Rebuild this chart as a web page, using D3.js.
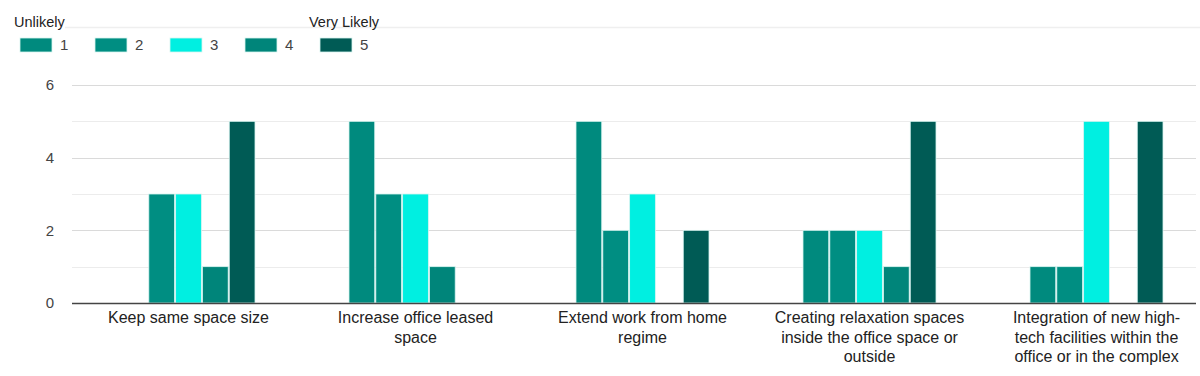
<!DOCTYPE html>
<html>
<head>
<meta charset="utf-8">
<script src="https://cdn.jsdelivr.net/npm/d3@7"></script>
<style>
  body { margin: 0; background: #fff; }
  svg { display: block; font-family: "Liberation Sans", Arial, sans-serif; }
</style>
</head>
<body>
<div id="chart"></div>
<script>
// Chart data
var categories = [
  "Keep same space size",
  "Increase office leased space",
  "Extend work from home regime",
  "Creating relaxation spaces inside the office space or outside",
  "Integration of new high-tech facilities within the office or in the complex"
];
// wrapped tick labels, one array of lines per category
var tickLabels = [
  ["Keep same space size"],
  ["Increase office leased", "space"],
  ["Extend work from home", "regime"],
  ["Creating relaxation spaces", "inside the office space or", "outside"],
  ["Integration of new high-", "tech facilities within the", "office or in the complex"]
];
var seriesNames = ["1", "2", "3", "4", "5"];
var s1 = [0, 5, 5, 2, 1];
var s2 = [3, 3, 2, 2, 1];
var s3 = [3, 3, 3, 2, 5];
var s4 = [1, 1, 0, 1, 0];
var s5 = [5, 0, 2, 5, 5];
var yTicks = [0, 2, 4, 6];

var series = [s1, s2, s3, s4, s5];
var colors = ["#008a7e", "#008e82", "#00efe1", "#00857a", "#005b55"];

var w = 1200, h = 376;
var plotLeft = 72, plotRight = 1196; // gridline extent
var y0 = 303, yTop = 85;

var svg = d3.select("#chart").append("svg")
    .attr("width", w)
    .attr("height", h);

// scales
var x0 = d3.scaleBand()
    .domain(d3.range(categories.length))
    .range([75, 1210]);

var x1 = d3.scaleBand()
    .domain(d3.range(seriesNames.length))
    .range([x0.bandwidth() / 2 - 66.5, x0.bandwidth() / 2 + 66.5])
    .paddingInner(0.04);

var y = d3.scaleLinear()
    .domain([0, 6])
    .range([y0, yTop]);

// faint line under the legend header
svg.append("line")
    .attr("x1", 65).attr("x2", w)
    .attr("y1", 27.5).attr("y2", 27.5)
    .attr("stroke", "#efefef")
    .attr("stroke-width", 1.5);

// gridlines (every 1, odd ones lighter)
svg.append("g").selectAll("line")
    .data(d3.range(1, 7))
    .enter()
    .append("line")
    .attr("x1", plotLeft).attr("x2", plotRight)
    .attr("y1", function (d) { return Math.round(y(d)) + 0.5; })
    .attr("y2", function (d) { return Math.round(y(d)) + 0.5; })
    .attr("stroke", function (d) { return d % 2 === 0 ? "#dadada" : "#ececec"; })
    .attr("stroke-width", 1.2);

// y axis labels
svg.append("g").selectAll("text")
    .data(yTicks)
    .enter()
    .append("text")
    .attr("x", 50)
    .attr("y", function (d) { return y(d); })
    .attr("dy", "0.36em")
    .attr("text-anchor", "middle")
    .attr("fill", "#444")
    .style("font-size", "15px")
    .text(function (d) { return d; });

// bars
var groups = svg.append("g").selectAll("g")
    .data(categories)
    .enter()
    .append("g")
    .attr("transform", function (d, i) { return "translate(" + x0(i) + ",0)"; });

groups.selectAll("rect")
    .data(function (d, i) {
        return series.map(function (s, j) { return { k: j, v: s[i] }; });
    })
    .enter()
    .append("rect")
    .filter(function (d) { return d.v > 0; })
    .attr("x", function (d) { return x1(d.k); })
    .attr("y", function (d) { return y(d.v); })
    .attr("width", x1.bandwidth())
    .attr("height", function (d) { return y(0) - y(d.v); })
    .attr("fill", function (d) { return colors[d.k]; })
    .attr("stroke", "#d8f4f1")
    .attr("stroke-width", 0.8);

// baseline
svg.append("line")
    .attr("x1", plotLeft).attr("x2", plotRight)
    .attr("y1", y0 + 0.5).attr("y2", y0 + 0.5)
    .attr("stroke", "#444")
    .attr("stroke-width", 1.5);

// category labels
var labels = svg.append("g").selectAll("text")
    .data(tickLabels)
    .enter()
    .append("text")
    .attr("text-anchor", "middle")
    .attr("fill", "#222")
    .style("font-size", "16px")
    .attr("transform", function (d, i) {
        return "translate(" + (x0(i) + x0.bandwidth() / 2) + "," + 323 + ")";
    });

labels.selectAll("tspan")
    .data(function (d) { return d; })
    .enter()
    .append("tspan")
    .attr("x", 0)
    .attr("y", function (d, i) { return i * 19.5; })
    .text(function (d) { return d; });

// legend header
svg.append("text")
    .attr("x", 14).attr("y", 27)
    .attr("fill", "#222")
    .style("font-size", "14.5px")
    .text("Unlikely");
svg.append("text")
    .attr("x", 309).attr("y", 27)
    .attr("fill", "#222")
    .style("font-size", "14.5px")
    .text("Very Likely");

// legend items
var legend = svg.append("g").selectAll("g")
    .data(seriesNames)
    .enter()
    .append("g")
    .attr("transform", function (d, i) { return "translate(" + (20 + i * 75) + ",38)"; });

legend.append("rect")
    .attr("width", 32)
    .attr("height", 14)
    .attr("fill", function (d, i) { return colors[i]; })
    .attr("stroke", "#d8f4f1")
    .attr("stroke-width", 0.8);

legend.append("text")
    .attr("x", 40)
    .attr("y", 7)
    .attr("dy", "0.36em")
    .attr("fill", "#444")
    .style("font-size", "15px")
    .text(function (d) { return d; });
</script>
</body>
</html>
